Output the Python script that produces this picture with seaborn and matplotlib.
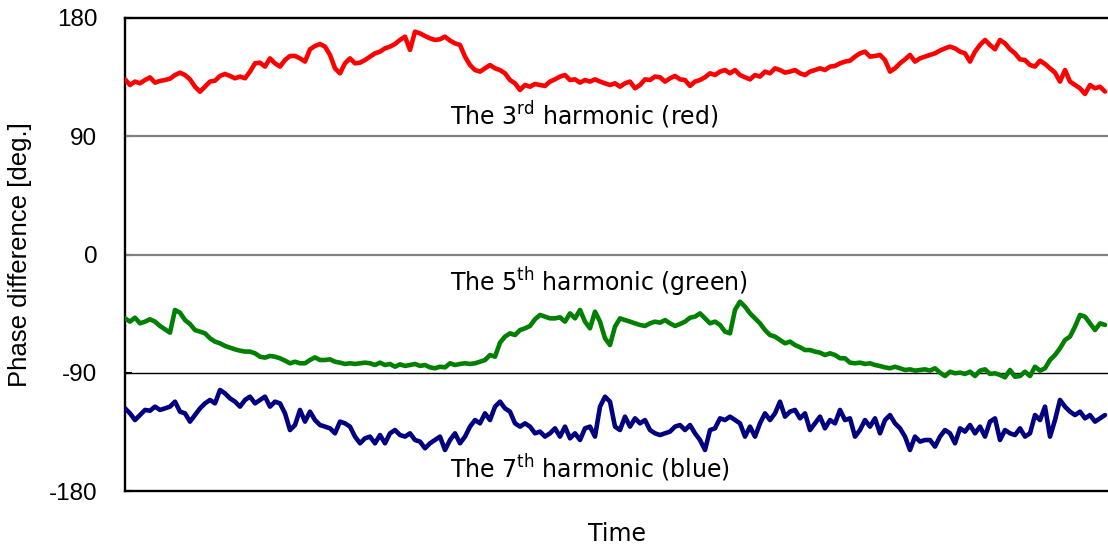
import numpy as np
import pandas as pd
import matplotlib
matplotlib.use('Agg')
import matplotlib.pyplot as plt
import seaborn as sns

# valores (grados), un punto cada ~5 px
red_3rd = [
    133.3, 129.0, 131.6, 130.3, 132.8, 134.8, 130.8, 132.1, 132.8, 133.8,
    136.6, 138.4, 136.6, 133.3, 127.7, 123.9, 127.7, 131.6, 132.3, 135.9,
    137.4, 135.9, 134.1, 135.4, 134.1, 139.2, 145.5, 146.0, 143.0, 149.3,
    145.5, 143.0, 148.0, 151.1, 151.1, 149.3, 146.8, 156.2, 158.7, 160.2,
    158.2, 151.9, 141.7, 137.9, 145.5, 149.3, 145.5, 146.0, 148.0,
    150.6, 153.1, 154.4, 156.9, 158.2, 160.2, 163.3, 165.8, 155.7, 169.6,
    168.3, 166.3, 164.5, 163.3, 163.8, 165.8, 162.8, 160.7, 159.5, 150.6,
    144.2, 140.4, 139.2, 141.7, 144.2, 141.7, 140.4, 137.9, 132.8, 130.3,
    125.2, 129.0, 127.7, 129.8, 129.0, 128.3, 131.6, 133.3, 135.4, 136.6,
    132.8, 133.3, 130.8, 132.8, 131.6, 133.3, 131.6, 130.3, 129.0,
    130.3, 127.7, 130.3, 131.6, 126.5, 129.0, 133.3, 132.8, 135.4, 134.9,
    131.6, 134.1, 135.9, 133.3, 132.8, 128.3, 131.6, 132.8, 134.9, 137.9,
    136.6, 139.2, 140.4, 137.9, 140.4, 136.6, 134.9, 133.3, 136.6, 135.4,
    139.2, 137.9, 141.7, 140.4, 138.4, 139.2, 140.4, 137.9, 136.6, 139.2,
    140.4, 141.7, 140.4, 143.0, 143.5, 145.5, 146.8, 147.5, 150.6,
    153.1, 154.4, 150.6, 151.1, 151.9, 148.0, 139.2, 141.7, 145.5, 148.5,
    151.9, 146.8, 149.3, 150.6, 151.9, 153.1, 155.2, 156.9, 158.2, 156.9,
    154.4, 153.1, 146.8, 154.4, 159.5, 163.3, 159.5, 156.2, 163.3, 160.7,
    156.2, 153.1, 148.5, 148.0, 144.2, 143.0, 147.5, 145.0, 141.7, 138.4,
    131.6, 140.4, 131.6, 129.0, 126.5, 122.2, 129.0, 126.5, 127.7, 124.0,
]

green_5th = [
    -48.6, -51.1, -48.1, -52.4, -51.1, -49.3, -51.1, -54.4, -56.9, -59.5,
    -42.2, -44.3, -49.9, -52.9, -57.5, -58.7, -60.0, -63.8, -66.3, -67.6,
    -69.6, -70.9, -72.2, -73.2, -73.9, -73.9, -75.2, -77.8, -78.5, -77.2,
    -77.8, -79.0, -80.8, -82.8, -81.6, -82.8, -82.8, -80.3, -78.3, -80.3,
    -80.3, -79.8, -81.6, -82.3, -83.3, -82.8, -83.3, -82.8, -82.3,
    -82.8, -84.1, -82.3, -84.1, -83.3, -85.4, -83.6, -84.8, -84.1, -83.3,
    -84.8, -84.1, -85.9, -86.6, -85.4, -85.9, -82.8, -84.1, -83.3, -82.8,
    -83.3, -82.8, -81.6, -80.3, -76.5, -77.8, -67.1, -62.5, -60.0, -61.3,
    -57.5, -56.2, -54.4, -49.3, -46.0, -47.3, -48.6, -48.6, -47.8, -51.1,
    -44.8, -48.6, -42.2, -51.1, -56.2, -43.5, -51.1, -63.8, -68.9,
    -54.9, -48.6, -49.9, -51.1, -52.4, -53.6, -54.4, -52.4, -51.1, -51.9,
    -49.9, -52.4, -54.4, -52.9, -51.1, -48.1, -47.3, -44.8, -48.6, -52.4,
    -51.1, -53.6, -58.7, -60.0, -42.2, -35.9, -39.7, -44.8, -48.6, -52.4,
    -57.5, -61.3, -62.5, -65.1, -67.6, -66.3, -68.9, -70.6, -72.7, -72.7,
    -73.9, -74.7, -76.5, -75.2, -76.5, -79.0, -79.0, -82.3, -82.8,
    -82.3, -83.3, -82.8, -84.1, -84.9, -85.9, -86.6, -85.4, -86.6, -87.9,
    -87.4, -88.4, -87.9, -87.4, -88.4, -86.6, -89.9, -92.5, -89.2, -90.4,
    -89.9, -90.9, -89.2, -92.5, -88.4, -87.4, -90.9, -90.4, -91.7, -93.5,
    -87.9, -93.0, -92.5, -89.2, -92.5, -85.4, -88.4, -86.6, -80.3, -76.5,
    -71.4, -65.1, -62.5, -54.9, -46.0, -47.3, -52.4, -57.5, -52.4, -53.6,
]

blue_7th = [
    -117.1, -120.9, -126.0, -122.2, -118.3, -118.9, -115.8, -118.3, -117.1, -115.8,
    -112.0, -119.6, -120.9, -127.2, -122.2, -117.1, -113.3, -110.7, -113.3, -103.1,
    -105.7, -109.5, -112.0, -115.8, -110.7, -108.2, -113.3, -110.7, -108.2, -115.8,
    -112.0, -113.3, -120.9, -133.6, -129.8, -118.3, -127.2, -119.6, -126.0, -129.8,
    -131.0, -132.3, -136.1, -127.2, -128.5, -131.0, -138.6, -143.7, -139.9,
    -138.6, -143.7, -137.4, -143.7, -136.1, -133.6, -137.4, -138.6, -136.1, -141.2,
    -142.4, -147.5, -143.7, -141.2, -138.6, -148.8, -141.2, -136.1, -143.7, -138.6,
    -131.0, -126.0, -128.5, -120.9, -126.0, -115.8, -112.0, -117.1, -119.6, -128.5,
    -131.0, -128.5, -131.0, -136.1, -134.8, -138.6, -136.1, -132.3, -138.6, -131.0,
    -139.9, -136.1, -141.2, -132.3, -131.0, -138.6, -115.8, -108.2, -112.0,
    -131.0, -133.6, -123.4, -131.0, -124.7, -128.5, -126.0, -133.6, -136.1, -137.4,
    -136.1, -134.8, -131.0, -129.8, -133.6, -129.8, -136.1, -141.2, -148.8, -133.6,
    -132.3, -124.7, -126.0, -123.4, -126.0, -128.5, -138.6, -131.0, -138.6, -128.5,
    -120.9, -126.0, -120.9, -112.0, -123.4, -119.6, -118.3, -124.7, -120.9, -133.6,
    -128.5, -123.4, -132.3, -126.0, -128.5, -118.3, -126.0, -124.7, -138.6,
    -133.6, -126.0, -131.0, -124.7, -136.1, -126.0, -122.2, -128.5, -132.3, -138.6,
    -148.8, -138.6, -142.4, -141.2, -141.2, -146.2, -138.6, -133.6, -136.1, -143.7,
    -132.3, -134.8, -129.8, -136.1, -131.0, -138.6, -127.2, -124.7, -141.2, -133.6,
    -136.1, -137.4, -132.3, -138.6, -136.1, -122.2, -126.0, -115.8, -138.6, -126.0,
    -110.7, -115.8, -119.6, -122.2, -119.6, -124.7, -122.2, -127.2, -124.7, -122.2,
]

harmonicos = ['3rd', '5th', '7th']
colores = {'3rd': '#ff0000', '5th': '#008000', '7th': '#000080'}
etiquetas = {
    '3rd': (98.6, r'The 3$^{\rm rd}$ harmonic (red)'),
    '5th': (-27.8, r'The 5$^{\rm th}$ harmonic (green)'),
    '7th': (-170.1, r'The 7$^{\rm th}$ harmonic (blue)'),
}
y_ticks = [-180, -90, 0, 90, 180]

df = pd.concat([
    pd.DataFrame({'time': np.arange(len(v)), 'phase': v, 'harmonic': h})
    for h, v in zip(harmonicos, [red_3rd, green_5th, blue_7th])
])

sns.set_style('white')
plt.rcParams['font.family'] = ['Liberation Sans', 'DejaVu Sans']
plt.rcParams['mathtext.fontset'] = 'dejavusans'
plt.rcParams['text.color'] = 'black'
plt.rcParams['axes.labelcolor'] = 'black'

fig = plt.figure(figsize=(11.08, 5.49), dpi=100)
ax = fig.add_axes([125 / 1108, 58 / 549, 983 / 1108, 473 / 549])

# lineas horizontales de referencia
ax.axhline(90, color='#808080', lw=1.6, zorder=1)
ax.axhline(0, color='#808080', lw=1.6, zorder=1)
ax.axhline(-90, color='black', lw=1.0, zorder=1)

sns.lineplot(data=df, x='time', y='phase', hue='harmonic', palette=colores,
             lw=3.3, legend=False, ax=ax, zorder=3)

ax.set_xlim(0, 196.6)
ax.set_ylim(-180, 180)
ax.set_yticks(y_ticks)
ax.set_yticklabels([str(t) for t in y_ticks])
ax.set_xticks([])
ax.tick_params(axis='y', direction='in', length=5, width=1.5, pad=20,
               labelsize=17.5, colors='black', left=True)

for lado in ['top', 'left', 'bottom']:
    ax.spines[lado].set_color('black')
    ax.spines[lado].set_linewidth(1.7)
ax.spines['right'].set_visible(False)

ax.set_ylabel('Phase difference [deg.]', fontsize=18.5, color='black')
ax.yaxis.set_label_coords(-0.095, 0.5)
ax.set_xlabel('Time', fontsize=17, family='DejaVu Sans', color='black')
ax.xaxis.set_label_coords(0.5, -0.065)

for h in harmonicos:
    y, txt = etiquetas[h]
    ax.text(65, y, txt, fontsize=17, family='DejaVu Sans', color='black',
            ha='left', va='baseline', zorder=4)

fig.savefig('out.png', dpi=100)
